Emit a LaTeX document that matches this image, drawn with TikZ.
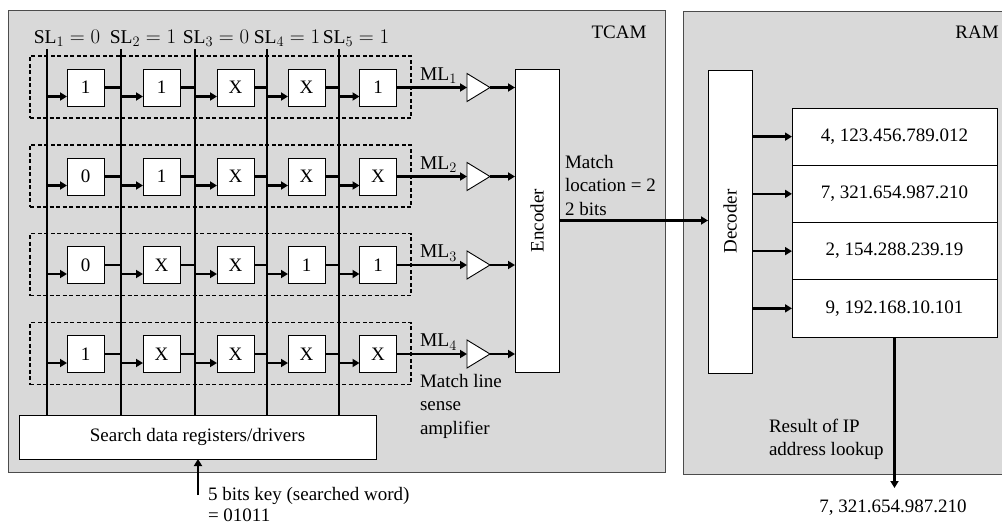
\documentclass[tikz,border=0pt]{standalone}
\usepackage{fontspec}
\setmainfont{Liberation Serif}
\usetikzlibrary{arrows.meta,calc}
\definecolor{panel}{RGB}{217,217,217}
\begin{document}
\begin{tikzpicture}[x=1pt,y=-1pt,
  every node/.style={font=\fontsize{19}{23.5}\selectfont, inner sep=0pt, outer sep=0pt},
  panelbox/.style={draw=black!70, line width=1pt, fill=panel},
  cellbox/.style={draw, line width=0.9pt, fill=white, minimum width=37pt, minimum height=37pt},
  wordbox/.style={draw, line width=1.2pt, dash pattern=on 4pt off 2.5pt, minimum width=381pt, minimum height=62pt},
  tallbox/.style={draw, line width=0.9pt, fill=white, minimum width=44pt, minimum height=303pt},
  rowbox/.style={draw, line width=0.9pt, fill=white, minimum width=205pt, minimum height=57.25pt},
  sline/.style={line width=1.8pt},
  mline/.style={line width=2.6pt},
  arr/.style={line width=2.6pt, -{Triangle[length=7pt,width=8pt]}},
  amp/.style={draw, line width=0.9pt, fill=white},
  txt/.style={align=left, anchor=north west},
  mathlab/.style={font=\fontsize{19.5}{23.5}\selectfont}
]
\useasboundingbox (0,0) rectangle (1002,527);
% panels
\path[panelbox] (8,11) rectangle (665,472);
\path[panelbox] (683,12) rectangle (1010,474);
\node (tcaml) at (619,32) {TCAM};
\node (raml) at (977,32) {RAM};

% search data box
\node[draw, line width=0.9pt, fill=white, minimum width=357pt, minimum height=44pt] (search) at (197.5,437) {Search data registers/drivers};

% search lines and labels
\foreach \k/\sx/\v/\dx in {1/47/0/20,2/121/1/22,3/195/0/21,4/267/1/20,5/339/1/17}{
  \coordinate (sl\k) at (\sx,49);
  \node[mathlab] (sll\k) at (\sx+\dx,38) {$\mathrm{SL}_\k = \v$};
}

% rows
\foreach \r/\y/\a/\b/\c/\d/\e in {1/87.5/1/1/X/X/1, 2/176.5/0/1/X/X/X, 3/265/0/X/X/1/1, 4/354/1/X/X/X/X}{
  \node[wordbox] (w\r) at (220.5,\y-0.5) {};
  \node[cellbox] (c\r1) at (85.5,\y) {\a};
  \node[cellbox] (c\r2) at (161.5,\y) {\b};
  \node[cellbox] (c\r3) at (235.5,\y) {\c};
  \node[cellbox] (c\r4) at (306.5,\y) {\d};
  \node[cellbox] (c\r5) at (378,\y) {\e};
  \coordinate (ampin\r) at (467,\y);
  \node[mathlab, anchor=south west] (ml\r) at (420,\y-4) {$\mathrm{ML}_\r$};
}

\foreach \k in {1,...,5}{
  \draw[sline] (sl\k) -- (sl\k |- search.north);
}

% encoder / decoder
\node[tallbox, label={[rotate=90]center:Encoder}] (enc) at (537,220.5) {};
\node[tallbox, label={[rotate=90]center:Decoder}] (dec) at (730,221.5) {};

\foreach \r in {1,...,4}{
  \foreach \k in {1,...,5}{
    \coordinate (in\r\k) at ($(c\r\k.west)+(0,9)$);
    \draw[arr] (sl\k |- in\r\k) -- (in\r\k);
  }
  \foreach \k in {1,...,4}{
    \pgfmathtruncatemacro{\kk}{\k+1}
    \draw[mline] (c\r\k.east) -- (sl\kk |- c\r\k.east);
  }
  \draw[arr] (c\r5.east) -- (ampin\r);
  \draw[amp] (ampin\r) -- ++(0,-14) -- ++(23,14) coordinate (ampout\r) -- ++(-23,14) -- cycle;
  \draw[arr] (ampout\r) -- (ampout\r -| enc.west);
}

% RAM rows
\foreach \i/\t in {1/{4, 123.456.789.012}, 2/{7, 321.654.987.210}, 3/{2, 154.288.239.19}, 4/{9, 192.168.10.101}}{
  \node[rowbox] (m\i) at (894.5,108+57.25*\i-28.625) {\t};
  \draw[arr] (dec.east |- m\i.west) -- (m\i.west);
}

\draw[arr] (enc.east) -- (enc.east -| dec.west);

% labels
\node[txt] (mloc) at (565,155) {Match\\location = 2\\2 bits};
\node[txt] (mlsa) at (420,374) {Match line\\sense\\amplifier};
\node[txt] (res) at (769,419) {Result of IP\\address lookup};
\node[txt, font=\fontsize{19}{21.5}\selectfont] (key) at (208,487) {5 bits key (searched word)\\= 01011};

% input and output
\coordinate (keystart) at (198,495);
\draw[arr] (keystart) -- (keystart |- search.south);
\coordinate (outend) at (894,488);
\draw[arr] (m4.south) -- (m4.south |- outend);
\node[anchor=base] (out) at (893,512) {7, 321.654.987.210};
\end{tikzpicture}
\end{document}
